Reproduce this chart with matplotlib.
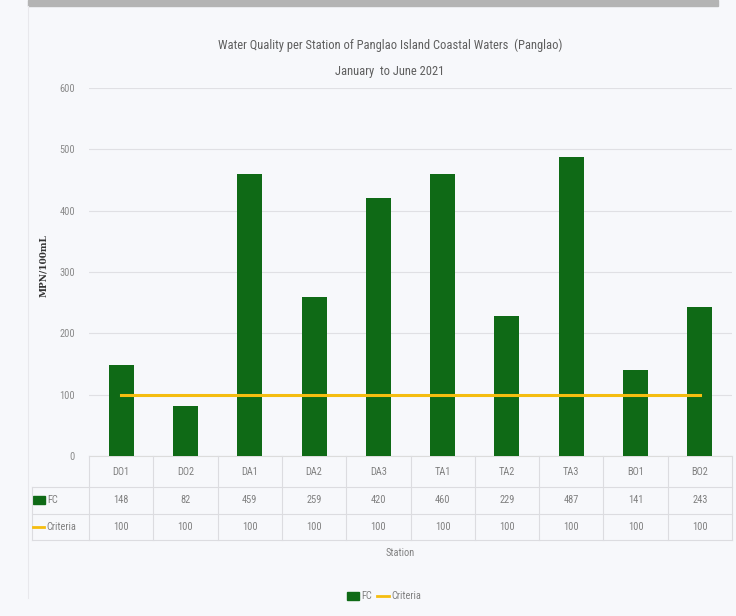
import matplotlib
matplotlib.use("Agg")
import matplotlib.pyplot as plt
from matplotlib.transforms import blended_transform_factory
from matplotlib.lines import Line2D
from matplotlib.patches import Rectangle
from matplotlib import font_manager

stations = ["DO1", "DO2", "DA1", "DA2", "DA3", "TA1", "TA2", "TA3", "BO1", "BO2"]
fc = [148, 82, 459, 259, 420, 460, 229, 487, 141, 243]
criteria = [100, 100, 100, 100, 100, 100, 100, 100, 100, 100]
yticks = [0, 100, 200, 300, 400, 500, 600]

names = {f.name for f in font_manager.fontManager.ttflist}
fams = [f for f in ["Liberation Sans Narrow", "Roboto Condensed", "Open Sans Condensed", "Lato"] if f in names]
plt.rcParams['font.family'] = fams[:1] + ['DejaVu Sans']

W, H = 736, 616
fig = plt.figure(figsize=(W / 100, H / 100), dpi=100)
bg = "#f7f8fb"
fig.patch.set_facecolor(bg)

# top scan band
fig.patches.append(Rectangle((28 / W, 1 - 6 / H), (718 - 28) / W, 6 / H,
                             transform=fig.transFigure, color="#b4b4b4", zorder=0))
fig.lines.append(Line2D([28 / W, 28 / W], [0.03, 1 - 6 / H], transform=fig.transFigure,
                        color="#e8e8ec", lw=0.8))

left, right, top, bottom = 89, 732, 88, 456
ax = fig.add_axes([left / W, 1 - bottom / H, (right - left) / W, (bottom - top) / H])
ax.set_facecolor(bg)
x = list(range(len(stations)))
green = "#0f6a16"
gold = "#f5bd10"
ax.bar(x, fc, width=0.39, color=green, zorder=3)
ax.plot(x, criteria, color=gold, lw=2.2, zorder=4)
ax.set_xlim(-0.5, len(stations) - 0.5)
ax.set_ylim(0, 600)
ax.set_yticks(yticks)
ax.set_yticklabels([str(v) for v in yticks], color="#8a8a8a", fontsize=7.5)
ax.tick_params(axis="y", length=0, pad=10)
ax.set_xticks([])
for s in ["top", "right", "left"]:
    ax.spines[s].set_visible(False)
ax.spines["bottom"].set_color("#dcdcdc")
ax.grid(axis="y", color="#e0e0e4", lw=0.8, zorder=0)
ax.set_axisbelow(True)

fig.text(44 / W, 1 - 266 / H, "MPN/100mL", rotation=90, ha="center", va="center",
         fontsize=6.5, fontweight="bold", color="#333333", family="DejaVu Serif")

tcol = "#5e5e5e"
fig.text(390 / W, 1 - 45 / H,
         "Water Quality per Station of Panglao Island Coastal Waters  (Panglao)",
         ha="center", va="center", fontsize=9, color=tcol)
fig.text(390 / W, 1 - 72 / H, "January  to June 2021", ha="center", va="center",
         fontsize=9, color=tcol)

# data table
tr = blended_transform_factory(ax.transData, fig.transFigure)
def fy(py):
    return 1 - py / H

lc = "#dcdce0"
tc = "#808080"
for py in [487, 514, 540]:
    fig.lines.append(Line2D([32 / W, right / W], [fy(py), fy(py)], transform=fig.transFigure,
                            color=lc, lw=0.8))
for b in [i - 0.5 for i in range(len(stations) + 1)]:
    fig.lines.append(Line2D([b, b], [fy(456), fy(540)], transform=tr, color=lc, lw=0.8))
fig.lines.append(Line2D([32 / W, 32 / W], [fy(487), fy(540)], transform=fig.transFigure,
                        color=lc, lw=0.8))
for i, s in enumerate(stations):
    fig.text(i, fy(472), s, transform=tr, ha="center", va="center", fontsize=7.5, color=tc)
    fig.text(i, fy(500), str(fc[i]), transform=tr, ha="center", va="center", fontsize=7.5, color=tc)
    fig.text(i, fy(527), str(criteria[i]), transform=tr, ha="center", va="center", fontsize=7.5, color=tc)

fig.patches.append(Rectangle((33 / W, fy(504)), 12 / W, 8 / H, transform=fig.transFigure,
                             color=green))
fig.text(47 / W, fy(500), "FC", ha="left", va="center", fontsize=7.5, color=tc)
fig.lines.append(Line2D([33 / W, 44 / W], [fy(527), fy(527)], transform=fig.transFigure,
                        color=gold, lw=2))
fig.text(46 / W, fy(527), "Criteria", ha="left", va="center", fontsize=7.5, color=tc)

fig.text(400 / W, fy(553), "Station", ha="center", va="center", fontsize=7.5, color=tc)

# bottom legend
fig.patches.append(Rectangle((347 / W, fy(600)), 12 / W, 8 / H, transform=fig.transFigure,
                             color=green))
fig.text(361 / W, fy(596), "FC", ha="left", va="center", fontsize=7.5, color=tc)
fig.lines.append(Line2D([377 / W, 389 / W], [fy(596), fy(596)], transform=fig.transFigure,
                        color=gold, lw=2))
fig.text(391 / W, fy(596), "Criteria", ha="left", va="center", fontsize=7.5, color=tc)

fig.savefig("out.png", dpi=100, facecolor=bg)
